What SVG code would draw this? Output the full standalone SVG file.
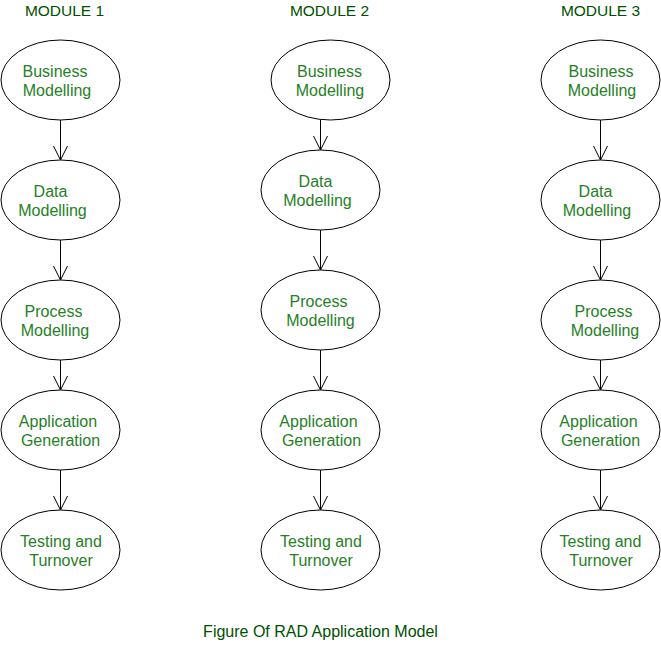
<svg xmlns="http://www.w3.org/2000/svg" width="661" height="661" viewBox="0 0 661 661">
<defs>
<style>
.bg{fill:#ffffff}
.node ellipse{fill:#ffffff;stroke:#000000;stroke-width:1}
.node text{font-family:"Liberation Sans",Arial,sans-serif;font-size:16px;fill:#267f26;text-anchor:middle}
.title{font-family:"Liberation Sans",Arial,sans-serif;font-size:15.5px;fill:#005000;text-anchor:middle}
.caption{font-family:"Liberation Sans",Arial,sans-serif;font-size:16px;fill:#005000;text-anchor:middle}
#connectors line{stroke:#000000;stroke-width:1;marker-end:url(#arr)}
</style>
<marker id="arr" markerUnits="userSpaceOnUse" markerWidth="16" markerHeight="16" viewBox="-1 -1 16 16" refX="14" refY="7" orient="auto">
<path d="M0,0 L14,7 L0,14" fill="none" stroke="#000000" stroke-width="1"/>
</marker>
</defs>
<rect class="bg" x="0" y="0" width="661" height="661"/>

<g id="labels">
<text class="title" x="64.5" y="16">MODULE 1</text>
<text class="title" x="329.5" y="16">MODULE 2</text>
<text class="title" x="600.5" y="16">MODULE 3</text>
<text class="caption" x="320.5" y="637">Figure Of RAD Application Model</text>
</g>

<g id="connectors">
<line x1="60.5" y1="120" x2="60.5" y2="160"/>
<line x1="60.5" y1="240" x2="60.5" y2="280"/>
<line x1="60.5" y1="360" x2="60.5" y2="390"/>
<line x1="60.5" y1="470" x2="60.5" y2="510"/>
<line x1="320.5" y1="120" x2="320.5" y2="150"/>
<line x1="320.5" y1="230" x2="320.5" y2="270"/>
<line x1="320.5" y1="350" x2="320.5" y2="390"/>
<line x1="320.5" y1="470" x2="320.5" y2="510"/>
<line x1="600.5" y1="120" x2="600.5" y2="160"/>
<line x1="600.5" y1="240" x2="600.5" y2="280"/>
<line x1="600.5" y1="360" x2="600.5" y2="390"/>
<line x1="600.5" y1="470" x2="600.5" y2="510"/>
</g>

<!-- Module 1 -->
<g id="m1-business" class="node"><ellipse cx="60.5" cy="80" rx="59.5" ry="40"/><text x="55" y="77">Business</text><text x="57" y="96">Modelling</text></g>
<g id="m1-data" class="node"><ellipse cx="60.5" cy="200" rx="59.5" ry="40"/><text x="50.5" y="197">Data</text><text x="52.5" y="216">Modelling</text></g>
<g id="m1-process" class="node"><ellipse cx="60.5" cy="320" rx="59.5" ry="40"/><text x="53.5" y="317">Process</text><text x="55" y="336">Modelling</text></g>
<g id="m1-application" class="node"><ellipse cx="60.5" cy="430" rx="59.5" ry="40"/><text x="58" y="427">Application</text><text x="60.5" y="446">Generation</text></g>
<g id="m1-testing" class="node"><ellipse cx="60.5" cy="550" rx="59.5" ry="40"/><text x="61" y="547">Testing and</text><text x="61" y="566">Turnover</text></g>

<!-- Module 2 -->
<g id="m2-business" class="node"><ellipse cx="330.5" cy="80" rx="59.5" ry="40"/><text x="329.5" y="77">Business</text><text x="330" y="96">Modelling</text></g>
<g id="m2-data" class="node"><ellipse cx="320.5" cy="190" rx="59.5" ry="40"/><text x="315.5" y="187">Data</text><text x="317.5" y="206">Modelling</text></g>
<g id="m2-process" class="node"><ellipse cx="320.5" cy="310" rx="59.5" ry="40"/><text x="318.5" y="307">Process</text><text x="320.5" y="326">Modelling</text></g>
<g id="m2-application" class="node"><ellipse cx="320.5" cy="430" rx="59.5" ry="40"/><text x="318.5" y="427">Application</text><text x="321.5" y="446">Generation</text></g>
<g id="m2-testing" class="node"><ellipse cx="320.5" cy="550" rx="59.5" ry="40"/><text x="321" y="547">Testing and</text><text x="321" y="566">Turnover</text></g>

<!-- Module 3 -->
<g id="m3-business" class="node"><ellipse cx="600.5" cy="80" rx="59.5" ry="40"/><text x="601" y="77">Business</text><text x="602" y="96">Modelling</text></g>
<g id="m3-data" class="node"><ellipse cx="600.5" cy="200" rx="59.5" ry="40"/><text x="595.5" y="197">Data</text><text x="597" y="216">Modelling</text></g>
<g id="m3-process" class="node"><ellipse cx="600.5" cy="320" rx="59.5" ry="40"/><text x="603.5" y="317">Process</text><text x="605" y="336">Modelling</text></g>
<g id="m3-application" class="node"><ellipse cx="600.5" cy="430" rx="59.5" ry="40"/><text x="598.5" y="427">Application</text><text x="600.5" y="446">Generation</text></g>
<g id="m3-testing" class="node"><ellipse cx="600.5" cy="550" rx="59.5" ry="40"/><text x="600.5" y="547">Testing and</text><text x="601" y="566">Turnover</text></g>
</svg>
